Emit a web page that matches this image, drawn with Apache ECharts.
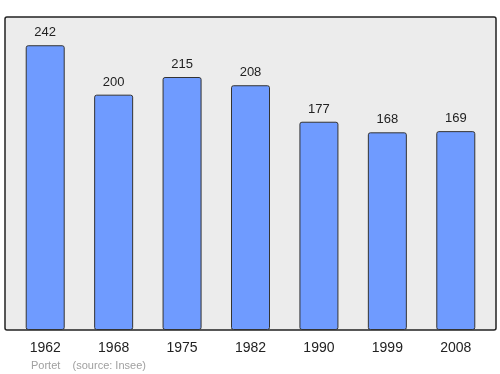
<!DOCTYPE html>
<html><head><meta charset="utf-8">
<script src="https://cdn.jsdelivr.net/npm/echarts@6/dist/echarts.min.js"></script>
<style>html,body{margin:0;padding:0;background:#fff}#c{width:500px;height:374px}</style>
</head><body><div id="c"></div>
<script>
const years = ['1962','1968','1975','1982','1990','1999','2008'];
const population = [242,200,215,208,177,168,169];
const footer = 'Portet    (source: Insee)';

const chart = echarts.init(document.getElementById('c'), null, {renderer:'canvas'});
chart.setOption({
  animation:false,
  graphic:[
    {type:'rect', z:-10, shape:{x:5, y:17, width:491, height:313, r:2},
     style:{fill:'#ececec', stroke:'#222', lineWidth:1.5}},
    {type:'text', left:31, top:360, style:{text:footer, fill:'#a0a0a0', font:'11px "Liberation Sans", Arial, sans-serif'}}
  ],
  grid:{left:11, right:10, top:17, bottom:44},
  xAxis:{type:'category', data:years,
    axisLine:{show:false}, axisTick:{show:false},
    axisLabel:{color:'#222', fontSize:14, margin:11, fontFamily:'"Liberation Sans", Arial, sans-serif'}},
  yAxis:{type:'value', min:0, max:266, show:false, splitLine:{show:false}},
  series:[{type:'bar', data:population, barWidth:39,
    itemStyle:{color:'#6f9bff', borderColor:'#333', borderWidth:1, borderRadius:2},
    label:{show:true, position:'top', distance:6, color:'#222', fontSize:13, fontFamily:'"Liberation Sans", Arial, sans-serif'}}]
});
</script></body></html>
